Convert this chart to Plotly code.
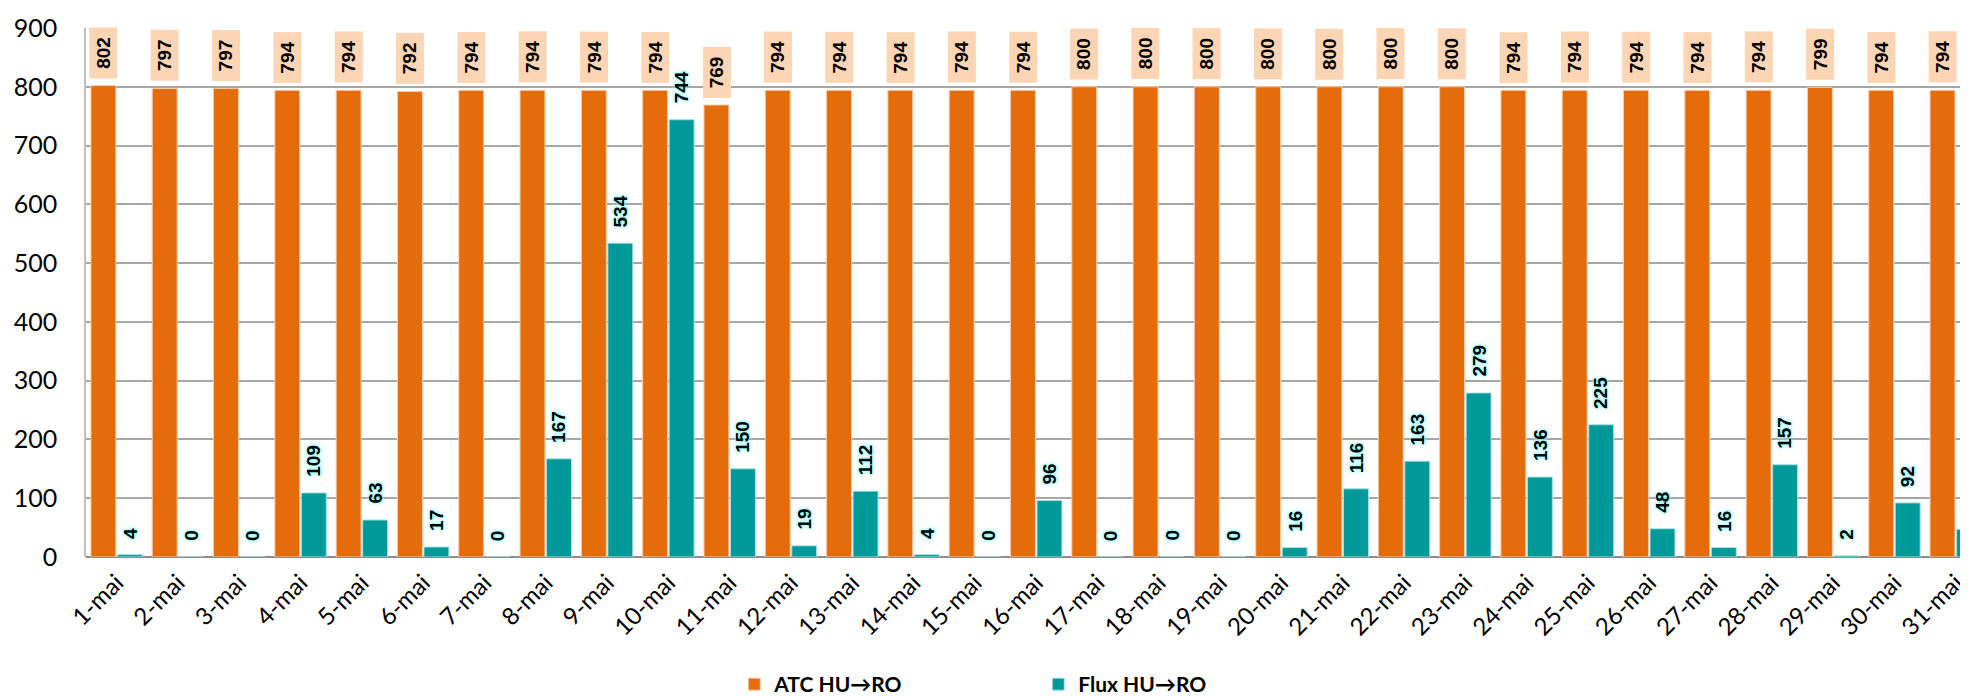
import plotly.graph_objects as go

days = [f"{d}-mai" for d in range(1, 32)]
atc = [802, 797, 797, 794, 794, 792, 794, 794, 794, 794, 769, 794, 794, 794, 794, 794,
       800, 800, 800, 800, 800, 800, 800, 794, 794, 794, 794, 794, 799, 794, 794]
flux = [4, 0, 0, 109, 63, 17, 0, 167, 534, 744, 150, 19, 112, 4, 0, 96,
        0, 0, 0, 16, 116, 163, 279, 136, 225, 48, 16, 157, 2, 92, 47]
y_ticks = list(range(0, 901, 100))

ORANGE = "#E46C0A"
TEAL = "#009999"
PEACH = "#FCD5B5"

W, H = 1968, 697
ML, MT, MB = 78, 20, 140

fig = go.Figure()
fig.add_trace(go.Bar(x=days, y=atc, name="ATC HU→RO", marker=dict(color=ORANGE, line=dict(color="#F8CBAD", width=1))))
fig.add_trace(go.Bar(x=days, y=flux, name="Flux HU→RO", marker=dict(color=TEAL, line=dict(color="#A8DEDE", width=1))))

BARGAP = 0.135
slot = (1 - BARGAP) / 2
off = slot / 2

annos = []
for i, d in enumerate(days):
    annos.append(dict(x=i - off, y=atc[i], xref="x", yref="y", text=str(atc[i]), textangle=-90,
                      showarrow=False, yanchor="bottom", xanchor="center", yshift=7,
                      bgcolor=PEACH, width=48, height=25, borderpad=1,
                      font=dict(family="Liberation Sans", size=19, color="black", weight="bold")))
    annos.append(dict(x=i + off, y=flux[i], xref="x", yref="y", text=str(flux[i]), textangle=-90,
                      showarrow=False, yanchor="bottom", xanchor="center", yshift=14,
                      font=dict(family="Liberation Sans", size=19, color="black", weight="bold",
                                shadow="0px 0px 3px #7FFFFF, 0px 0px 4px #7FFFFF")))

fig.update_layout(
    width=W, height=H,
    margin=dict(l=ML, r=0, t=MT, b=MB, pad=0),
    paper_bgcolor="white", plot_bgcolor="white",
    barmode="group", bargap=BARGAP, bargroupgap=0.06,
    font=dict(family="Lato", color="black"),
    annotations=annos,
    legend=dict(orientation="h", x=0.343, xanchor="left", y=-0.242, yanchor="middle",
                font=dict(family="Lato", size=21, weight="bold", color="black"),
                entrywidth=259, entrywidthmode="pixels", itemclick=False),
    xaxis=dict(type="category", range=[-0.5, 30.33], tickangle=-45,
               tickfont=dict(family="Lato", size=24, color="black"),
               showgrid=False, showline=False, ticks="", zeroline=False,
               ticklabelstandoff=6),
    yaxis=dict(range=[0, 900], tickvals=y_ticks, ticktext=[str(v) for v in y_ticks],
               tickfont=dict(family="Lato", size=25, color="black"),
               showgrid=True, gridcolor="#A6A6A6", gridwidth=1.5,
               showline=True, linecolor="#BFBFBF", linewidth=1.5,
               zeroline=True, zerolinecolor="#8C8C8C", zerolinewidth=2,
               ticks="", ticklabelstandoff=22),
)

fig.write_html("out.html")
